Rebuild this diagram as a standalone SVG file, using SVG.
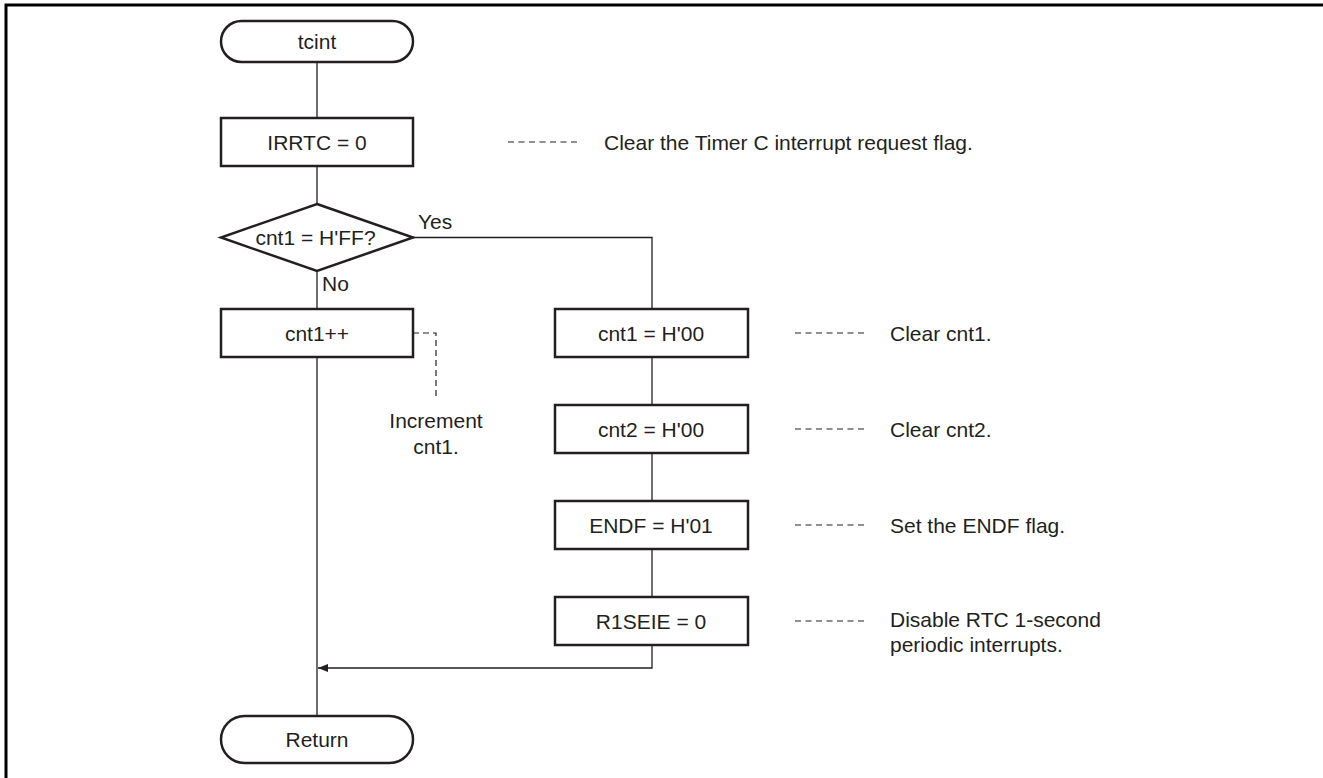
<svg xmlns="http://www.w3.org/2000/svg" width="1323" height="778" viewBox="0 0 1323 778">
  <defs>
    <style>
      .box { fill: #fff; stroke: #231f20; stroke-width: 2.5; }
      .line { fill: none; stroke: #231f20; stroke-width: 1.3; }
      .dash { fill: none; stroke: #231f20; stroke-width: 1.2; stroke-dasharray: 6 4.5; }
      .t { font-family: "Liberation Sans", Arial, sans-serif; font-size: 21px; fill: #231f20; }
      .c { text-anchor: middle; }
    </style>
    <marker id="arrow" markerWidth="10" markerHeight="8" refX="10" refY="4" orient="auto" markerUnits="userSpaceOnUse">
      <path d="M0,0 L10,4 L0,8 Z" fill="#231f20"/>
    </marker>
  </defs>

  <rect width="1323" height="778" fill="#fff"/>
  <!-- frame (top and left edges) -->
  <path d="M6,778 V5 H1323" fill="none" stroke="#000" stroke-width="3"/>

  <!-- connectors -->
  <g id="connectors">
    <path class="line" d="M317,62 V118"/>
    <path class="line" d="M317,166 V204"/>
    <path class="line" d="M317,271 V309"/>
    <path class="line" d="M317,357 V716"/>
    <path class="line" d="M413,237.5 H652 V309"/>
    <path class="line" d="M652,357 V405"/>
    <path class="line" d="M652,453 V501"/>
    <path class="line" d="M652,549 V597"/>
    <path class="line" d="M652,645 V668 H318" marker-end="url(#arrow)"/>
    <!-- annotation leaders -->
    <path class="dash" d="M508,142 H577"/>
    <path class="dash" d="M413,333 H436 V400" style="stroke-dasharray:6 4"/>
    <path class="dash" d="M795,333 H865"/>
    <path class="dash" d="M795,429 H865"/>
    <path class="dash" d="M795,525 H865"/>
    <path class="dash" d="M795,621 H865"/>
  </g>

  <g id="start">
    <rect class="box" x="221" y="21" width="192" height="41" rx="20.5"/>
    <text class="t c" x="317" y="49">tcint</text>
  </g>

  <g id="clear-irrtc">
    <rect class="box" x="221" y="118" width="192" height="48"/>
    <text class="t c" x="317" y="149.5">IRRTC = 0</text>
    <text class="t" x="604" y="149.5">Clear the Timer C interrupt request flag.</text>
  </g>

  <g id="check-cnt1">
    <polygon class="box" points="317,204 413,237.5 317,271 221,237.5"/>
    <text class="t c" x="315.5" y="245">cnt1 = H'FF?</text>
    <text class="t" x="418" y="229">Yes</text>
    <text class="t" x="322" y="291">No</text>
  </g>

  <g id="inc-cnt1">
    <rect class="box" x="221" y="309" width="192" height="48"/>
    <text class="t c" x="317" y="340.5">cnt1++</text>
    <text class="t c" x="436" y="428">Increment</text>
    <text class="t c" x="436" y="454">cnt1.</text>
  </g>

  <g id="clear-cnt1">
    <rect class="box" x="555" y="309" width="193" height="48"/>
    <text class="t c" x="651" y="340.5">cnt1 = H'00</text>
    <text class="t" x="890" y="340.5">Clear cnt1.</text>
  </g>

  <g id="clear-cnt2">
    <rect class="box" x="555" y="405" width="193" height="48"/>
    <text class="t c" x="651" y="436.5">cnt2 = H'00</text>
    <text class="t" x="890" y="436.5">Clear cnt2.</text>
  </g>

  <g id="set-endf">
    <rect class="box" x="555" y="501" width="193" height="48"/>
    <text class="t c" x="651" y="532.5">ENDF = H'01</text>
    <text class="t" x="890" y="532.5">Set the ENDF flag.</text>
  </g>

  <g id="disable-r1seie">
    <rect class="box" x="555" y="597" width="193" height="48"/>
    <text class="t c" x="651" y="628.5">R1SEIE = 0</text>
    <text class="t" x="890" y="627">Disable RTC 1-second</text>
    <text class="t" x="890" y="652">periodic interrupts.</text>
  </g>

  <g id="end">
    <rect class="box" x="221" y="716" width="192" height="47" rx="23.5"/>
    <text class="t c" x="317" y="747">Return</text>
  </g>
</svg>
